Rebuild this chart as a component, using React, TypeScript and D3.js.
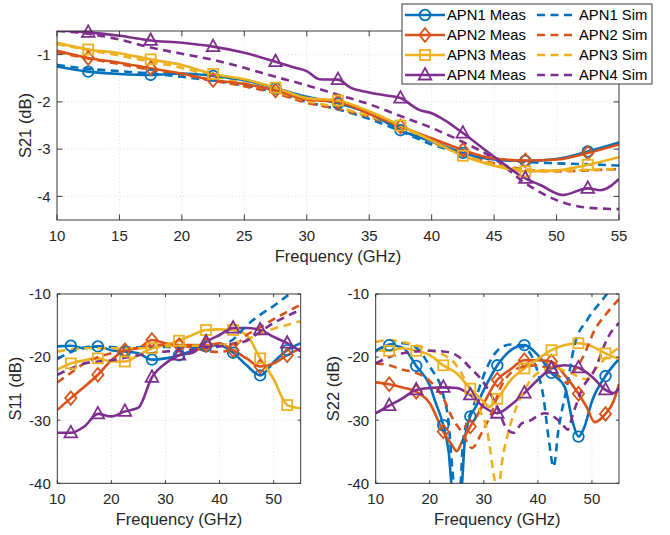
import React from 'react';
import * as d3 from 'd3';

// ---------- styling constants ----------
const COLORS = ['#0072BD', '#D95319', '#EDB120', '#7E2F8E'];
const NAMES = ['APN1', 'APN2', 'APN3', 'APN4'];
const MARKERS = ['circle', 'diamond', 'square', 'triangle'];
const AX = '#262626';
const FONT = '"Liberation Sans", Arial, Helvetica, sans-serif';

// ---------- tick labels ----------
const s21XTicks = [10, 15, 20, 25, 30, 35, 40, 45, 50, 55];
const s21YTicks = [-4, -3, -2, -1];
const bottomXTicks = [10, 20, 30, 40, 50];
const bottomYTicks = [-40, -30, -20, -10];
const markerFreqs = [12.5, 17.5, 22.5, 27.5, 32.5, 37.5, 42.5, 47.5, 52.5];

// ---------- S21 data ----------
const s21Freq = [10, 12.5, 15, 17.5, 20, 22.5, 25, 27.5, 30, 32.5, 35, 37.5, 40, 42.5, 45, 47.5, 50, 52.5, 55];
const s21Apn1Meas = [-1.25, -1.36, -1.41, -1.43, -1.4, -1.45, -1.54, -1.71, -1.89, -2.03, -2.24, -2.6, -2.84, -3.08, -3.22, -3.25, -3.21, -3.05, -2.86];
const s21Apn2Meas = [-0.92, -1.07, -1.17, -1.29, -1.4, -1.54, -1.62, -1.76, -1.95, -2.0, -2.25, -2.52, -2.77, -3.02, -3.2, -3.24, -3.22, -3.08, -2.9];
const s21Apn3Meas = [-0.75, -0.89, -0.97, -1.1, -1.22, -1.41, -1.52, -1.7, -1.92, -1.97, -2.2, -2.5, -2.82, -3.14, -3.35, -3.47, -3.45, -3.33, -3.17];
const s21Apn4MeasFreq = [10, 12.5, 15, 17.5, 20, 22.5, 25, 27.5, 29, 30, 31, 32.5, 33.5, 35, 36.5, 37.5, 39, 40, 41, 42.5, 45, 47.5, 48.7, 50.5, 52.5, 53.5, 55];
const s21Apn4Meas = [-0.49, -0.53, -0.6, -0.7, -0.75, -0.83, -0.96, -1.15, -1.27, -1.35, -1.52, -1.53, -1.7, -1.8, -1.87, -1.92, -2.17, -2.24, -2.38, -2.66, -3.16, -3.62, -3.76, -3.97, -3.83, -3.87, -3.63];
const s21Apn1Sim = [-1.22, -1.3, -1.35, -1.4, -1.47, -1.55, -1.65, -1.8, -2.0, -2.16, -2.36, -2.62, -2.9, -3.08, -3.2, -3.27, -3.3, -3.32, -3.35];
const s21Apn2Sim = [-0.95, -1.08, -1.2, -1.32, -1.42, -1.55, -1.67, -1.82, -2.02, -2.15, -2.32, -2.55, -2.82, -3.1, -3.3, -3.43, -3.47, -3.45, -3.42];
const s21Apn3Sim = [-0.78, -0.9, -1.02, -1.15, -1.28, -1.45, -1.6, -1.78, -1.98, -2.12, -2.3, -2.55, -2.85, -3.12, -3.32, -3.44, -3.46, -3.44, -3.42];
const s21Apn4Sim = [-0.5, -0.56, -0.68, -0.85, -0.98, -1.11, -1.28, -1.47, -1.65, -1.85, -2.05, -2.3, -2.55, -2.85, -3.2, -3.72, -4.08, -4.24, -4.27];

// ---------- S11 data ----------
const s11Freq = [10, 12.5, 15, 17.5, 20, 22.5, 25, 27.5, 30, 32.5, 35, 37.5, 40, 42.5, 45, 47.5, 50, 52.5, 55];
const s11Apn1Meas = [-18.3, -18.2, -18.6, -18.3, -18.9, -19.1, -19.4, -20.4, -20.2, -19.7, -19.0, -18.3, -18.1, -19.3, -21.3, -22.9, -20.8, -18.9, -17.8];
const s11Apn2Meas = [-28.4, -26.5, -24.7, -22.8, -20.5, -18.9, -18.6, -17.3, -17.8, -18.1, -18.1, -18.1, -17.8, -18.9, -20.2, -21.5, -21.0, -19.7, -18.6];
const s11Apn3Meas = [-22.0, -21.0, -20.5, -20.2, -20.7, -20.7, -19.7, -18.6, -18.1, -17.4, -16.5, -15.7, -15.6, -15.7, -16.5, -20.2, -23.5, -27.6, -28.1];
const s11Apn4Meas = [-32.0, -32.0, -31.0, -29.0, -29.4, -28.6, -28.0, -23.2, -21.0, -19.7, -19.3, -17.6, -16.5, -15.4, -15.4, -15.7, -16.8, -17.8, -19.1];
const s11Apn1Sim = [-20.3, -19.2, -18.5, -18.3, -18.4, -18.5, -18.5, -18.4, -18.4, -18.5, -18.5, -18.4, -18.2, -17.2, -15.0, -13.3, -11.9, -10.3, -9.0];
const s11Apn2Sim = [-24.0, -22.5, -21.0, -20.0, -19.4, -18.9, -18.5, -18.2, -18.0, -18.2, -18.5, -19.0, -19.2, -18.5, -16.5, -15.3, -14.0, -12.8, -11.7];
const s11Apn3Sim = [-19.1, -18.8, -18.6, -18.6, -18.6, -18.6, -18.6, -18.5, -18.3, -18.2, -18.2, -18.2, -18.1, -17.8, -17.2, -16.3, -15.5, -14.9, -14.3];
const s11Apn4Sim = [-22.8, -21.8, -21.0, -20.7, -20.5, -20.1, -19.7, -19.4, -19.1, -19.0, -18.9, -18.6, -18.3, -17.9, -17.4, -16.0, -14.6, -13.5, -12.5];

// ---------- S22 data ----------
const s22Apn1MeasFreq = [10, 12.5, 15, 17.5, 20, 21, 22.5, 23.5, 24.2, 25.8, 26.5, 27.5, 28.5, 30, 32.5, 35, 37.5, 40, 42.5, 45, 46.5, 47.5, 48.5, 50, 52.5, 55];
const s22Apn1Meas = [-19.1, -18.1, -18.5, -21.4, -24.5, -27, -30.8, -35, -41, -41, -33, -29.4, -27.9, -25.2, -21.3, -18.9, -18.1, -19.7, -22.5, -24.8, -30.5, -32.6, -31.3, -27.0, -23.0, -20.3];
const s22Apn2MeasFreq = [10, 12.5, 15, 17.5, 20, 22.5, 24, 25, 26, 27.5, 29, 30, 32.5, 35, 37.5, 40, 42.5, 45, 47.5, 49, 50.5, 52.5, 54, 55];
const s22Apn2Meas = [-24.0, -24.3, -24.8, -25.5, -27.3, -31.8, -33.8, -34.9, -33.3, -31.0, -28.9, -27.3, -23.6, -21.9, -20.5, -20.5, -20.7, -22.9, -25.8, -27.9, -30.3, -29.0, -27.0, -24.3];
const s22Apn3MeasFreq = [10, 12.5, 15, 17.5, 20, 22.5, 25, 27.5, 30, 31, 32.5, 35, 37.5, 40, 42.5, 45, 47.5, 50, 52.5, 55];
const s22Apn3Meas = [-18.9, -19.0, -18.6, -19.0, -19.7, -21.3, -22.6, -25.0, -27.1, -27.9, -26.6, -23.6, -21.8, -20.3, -18.9, -18.1, -17.8, -18.3, -19.4, -20.3];
const s22Apn4MeasFreq = [10, 12.5, 15, 17.5, 20, 22.5, 25, 27.5, 30, 32.5, 35, 37.5, 40, 42.5, 45, 47.5, 50, 52.5, 54, 55];
const s22Apn4Meas = [-28.9, -27.7, -26.5, -25.2, -24.9, -24.8, -24.9, -26.0, -27.9, -28.9, -27.6, -25.7, -23.6, -21.8, -21.3, -21.7, -23.1, -25.2, -25.7, -24.9];
const s22Apn1SimFreq = [10, 12.5, 15, 17.5, 20, 22.5, 23.5, 24.2, 24.7, 25.5, 26.2, 28.1, 30.5, 33, 35, 37.5, 40, 41, 42, 42.9, 43.8, 45.3, 46.8, 49.2, 52.4, 54];
const s22Apn1Sim = [-19.0, -18.0, -17.8, -18.5, -21.5, -26.0, -30.5, -38.0, -42, -42, -33.0, -27.7, -21.8, -18.6, -18.0, -18.5, -22.5, -26.2, -33.0, -37.4, -31.5, -25.0, -18.0, -14.0, -10.4, -8.5];
const s22Apn2SimFreq = [10, 12.5, 15, 17.5, 20, 22.5, 24.1, 26, 27.8, 29.6, 31.4, 33, 35, 37.5, 40, 42.5, 44, 45.4, 46.5, 48.4, 50.5, 52.5, 55];
const s22Apn2Sim = [-21.0, -21.3, -22.0, -22.5, -23.8, -26.5, -29.5, -32.0, -34.4, -32.0, -28.9, -25.0, -22.5, -21.5, -21.3, -22.2, -23.1, -24.1, -22.5, -19.9, -15.7, -13.3, -10.8];
const s22Apn3SimFreq = [10, 12.5, 15, 17.3, 20, 22.5, 24.1, 27.2, 29, 30.6, 32, 32.6, 33.3, 34.5, 36, 38, 40, 43, 46, 49, 51, 53, 55];
const s22Apn3Sim = [-17.6, -17.3, -17.6, -18.1, -18.9, -19.6, -20.5, -24.7, -28.0, -31.6, -39.5, -42, -37.0, -32.0, -28.0, -24.5, -22.5, -21.7, -22.5, -23.5, -21.5, -19.8, -18.5];
const s22Apn4SimFreq = [10, 12.5, 15, 17.5, 20, 22.5, 25.3, 27.8, 29.6, 32.5, 34, 35.5, 37, 38.2, 41.3, 44.4, 45.5, 46.5, 48.1, 50.5, 53, 55];
const s22Apn4Sim = [-21.0, -20.0, -19.4, -19.1, -19.0, -19.1, -19.9, -22.0, -23.6, -28.0, -31.0, -32.0, -30.5, -30.2, -28.9, -30.5, -31.5, -29.0, -25.2, -22.0, -16.8, -14.6];

type Series = { f: number[]; v: number[]; color: string; marker: string; dashed: boolean };

function mk(f: number[], v: number[], i: number, dashed: boolean): Series {
  return { f, v, color: COLORS[i], marker: MARKERS[i], dashed };
}

const s21Series: Series[] = [
  mk(s21Freq, s21Apn1Sim, 0, true), mk(s21Freq, s21Apn2Sim, 1, true), mk(s21Freq, s21Apn3Sim, 2, true), mk(s21Freq, s21Apn4Sim, 3, true),
  mk(s21Freq, s21Apn1Meas, 0, false), mk(s21Freq, s21Apn2Meas, 1, false), mk(s21Freq, s21Apn3Meas, 2, false), mk(s21Apn4MeasFreq, s21Apn4Meas, 3, false),
];
const s11Series: Series[] = [
  mk(s11Freq, s11Apn1Meas, 0, false), mk(s11Freq, s11Apn2Meas, 1, false), mk(s11Freq, s11Apn3Meas, 2, false), mk(s11Freq, s11Apn4Meas, 3, false),
  mk(s11Freq, s11Apn1Sim, 0, true), mk(s11Freq, s11Apn2Sim, 1, true), mk(s11Freq, s11Apn3Sim, 2, true), mk(s11Freq, s11Apn4Sim, 3, true),
];
const s22Series: Series[] = [
  mk(s22Apn1MeasFreq, s22Apn1Meas, 0, false), mk(s22Apn2MeasFreq, s22Apn2Meas, 1, false), mk(s22Apn3MeasFreq, s22Apn3Meas, 2, false), mk(s22Apn4MeasFreq, s22Apn4Meas, 3, false),
  mk(s22Apn1SimFreq, s22Apn1Sim, 0, true), mk(s22Apn2SimFreq, s22Apn2Sim, 1, true), mk(s22Apn3SimFreq, s22Apn3Sim, 2, true), mk(s22Apn4SimFreq, s22Apn4Sim, 3, true),
];

function Marker({ type, x, y, color }: { type: string; x: number; y: number; color: string }) {
  const sw = 1.8;
  if (type === 'circle') return <circle cx={x} cy={y} r={5.3} fill="none" stroke={color} strokeWidth={sw} />;
  if (type === 'square') return <rect x={x - 5} y={y - 5} width={10} height={10} fill="none" stroke={color} strokeWidth={sw} />;
  if (type === 'diamond') return <path d={`M${x},${y - 6.8}L${x + 5.6},${y}L${x},${y + 6.8}L${x - 5.6},${y}Z`} fill="none" stroke={color} strokeWidth={sw} />;
  return <path d={`M${x},${y - 7}L${x + 6.3},${y + 4.5}L${x - 6.3},${y + 4.5}Z`} fill="none" stroke={color} strokeWidth={sw} strokeLinejoin="miter" />;
}

type PanelProps = {
  id: string; x0: number; x1: number; y0: number; y1: number;
  yDomain: [number, number]; xTicks: number[]; yTicks: number[];
  ylabel: string; ylabelOffset: number; series: Series[]; tickLen: number;
};

function Panel(p: PanelProps) {
  const xs = d3.scaleLinear().domain([10, 55]).range([p.x0, p.x1]);
  const ys = d3.scaleLinear().domain(p.yDomain).range([p.y1, p.y0]);
  const line = d3.line<[number, number]>().x(d => xs(d[0])).y(d => ys(d[1])).curve(d3.curveMonotoneX);
  const midY = (p.y0 + p.y1) / 2;
  const midX = (p.x0 + p.x1) / 2;
  return (
    <g>
      <defs>
        <clipPath id={p.id}>
          <rect x={p.x0} y={p.y0} width={p.x1 - p.x0} height={p.y1 - p.y0} />
        </clipPath>
      </defs>
      <rect x={p.x0} y={p.y0} width={p.x1 - p.x0} height={p.y1 - p.y0} fill="#fff" />
      {/* grid */}
      {p.xTicks.map(t => (
        <line key={'gx' + t} x1={xs(t)} x2={xs(t)} y1={p.y0} y2={p.y1} stroke={AX} strokeOpacity={0.18} strokeWidth={0.8} strokeDasharray="1,2.5" />
      ))}
      {p.yTicks.map(t => (
        <line key={'gy' + t} x1={p.x0} x2={p.x1} y1={ys(t)} y2={ys(t)} stroke={AX} strokeOpacity={0.18} strokeWidth={0.8} strokeDasharray="1,2.5" />
      ))}
      {/* lines */}
      <g clipPath={`url(#${p.id})`}>
        {p.series.map((s, i) => (
          <path key={'l' + i} d={line(s.f.map((f, k) => [f, s.v[k]] as [number, number])) || ''} fill="none" stroke={s.color}
            strokeWidth={2.6} strokeDasharray={s.dashed ? '8,5.5' : undefined} strokeLinejoin="round" />
        ))}
      </g>
      {/* markers */}
      {p.series.filter(s => !s.dashed).map((s, i) => (
        <g key={'m' + i}>
          {markerFreqs.map(mf => {
            const k = s.f.indexOf(mf);
            const v = k >= 0 ? s.v[k] : d3.scaleLinear().domain(s.f).range(s.v)(mf);
            return <Marker key={mf} type={s.marker} x={xs(mf)} y={ys(v)} color={s.color} />;
          })}
        </g>
      ))}
      {/* box */}
      <rect x={p.x0} y={p.y0} width={p.x1 - p.x0} height={p.y1 - p.y0} fill="none" stroke={AX} strokeWidth={0.9} />
      {/* ticks */}
      {p.xTicks.map(t => (
        <g key={'tx' + t}>
          <line x1={xs(t)} x2={xs(t)} y1={p.y1} y2={p.y1 - p.tickLen} stroke={AX} strokeWidth={0.9} />
          <line x1={xs(t)} x2={xs(t)} y1={p.y0} y2={p.y0 + p.tickLen} stroke={AX} strokeWidth={0.9} />
          <text x={xs(t)} y={p.y1 + 20.5} textAnchor="middle" fontSize={15} fill={AX} fontFamily={FONT}>{t}</text>
        </g>
      ))}
      {p.yTicks.map(t => (
        <g key={'ty' + t}>
          <line x1={p.x0} x2={p.x0 + p.tickLen} y1={ys(t)} y2={ys(t)} stroke={AX} strokeWidth={0.9} />
          <line x1={p.x1} x2={p.x1 - p.tickLen} y1={ys(t)} y2={ys(t)} stroke={AX} strokeWidth={0.9} />
          <text x={p.x0 - 6.5} y={ys(t) + 5.3} textAnchor="end" fontSize={15} fill={AX} fontFamily={FONT}>{t}</text>
        </g>
      ))}
      <text x={midX} y={p.y1 + 41.7} textAnchor="middle" fontSize={16.5} fill={AX} fontFamily={FONT}>Frequency (GHz)</text>
      <text transform={`translate(${p.x0 - p.ylabelOffset},${midY}) rotate(-90)`} textAnchor="middle" fontSize={16.5} fill={AX} fontFamily={FONT}>{p.ylabel}</text>
    </g>
  );
}

function Legend() {
  const x0 = 402, x1 = 652, y0 = 4, y1 = 84;
  const rows = [15, 35, 55, 75];
  return (
    <g>
      <rect x={x0} y={y0} width={x1 - x0} height={y1 - y0} fill="#fff" stroke={AX} strokeWidth={0.9} />
      {NAMES.map((n, i) => (
        <g key={n}>
          <line x1={405} x2={445} y1={rows[i]} y2={rows[i]} stroke={COLORS[i]} strokeWidth={2.6} />
          <Marker type={MARKERS[i]} x={425} y={rows[i]} color={COLORS[i]} />
          <text x={447} y={rows[i] + 5.3} fontSize={14.8} fill="#000" fontFamily={FONT}>{n} Meas</text>
          <line x1={537} x2={577} y1={rows[i]} y2={rows[i]} stroke={COLORS[i]} strokeWidth={2.6} strokeDasharray="8,5.5" />
          <text x={579} y={rows[i] + 5.3} fontSize={14.8} fill="#000" fontFamily={FONT}>{n} Sim</text>
        </g>
      ))}
    </g>
  );
}

export default function App() {
  return (
    <svg width={670} height={535} style={{ position: 'absolute', left: 0, top: 0, background: '#fff' }}>
      <rect x={0} y={0} width={670} height={535} fill="#fff" />
      <Panel id="c21" x0={57} x1={619} y0={31} y1={220} yDomain={[-4.5, -0.5]} xTicks={s21XTicks} yTicks={s21YTicks}
        ylabel="S21 (dB)" ylabelOffset={26.5} series={s21Series} tickLen={5.5} />
      <Panel id="c11" x0={57.3} x1={300.7} y0={294} y1={483.3} yDomain={[-40, -10]} xTicks={bottomXTicks} yTicks={bottomYTicks}
        ylabel="S11 (dB)" ylabelOffset={36.8} series={s11Series} tickLen={3} />
      <Panel id="c22" x0={375.7} x1={619} y0={294} y1={483.3} yDomain={[-40, -10]} xTicks={bottomXTicks} yTicks={bottomYTicks}
        ylabel="S22 (dB)" ylabelOffset={36.8} series={s22Series} tickLen={3} />
      <Legend />
    </svg>
  );
}
